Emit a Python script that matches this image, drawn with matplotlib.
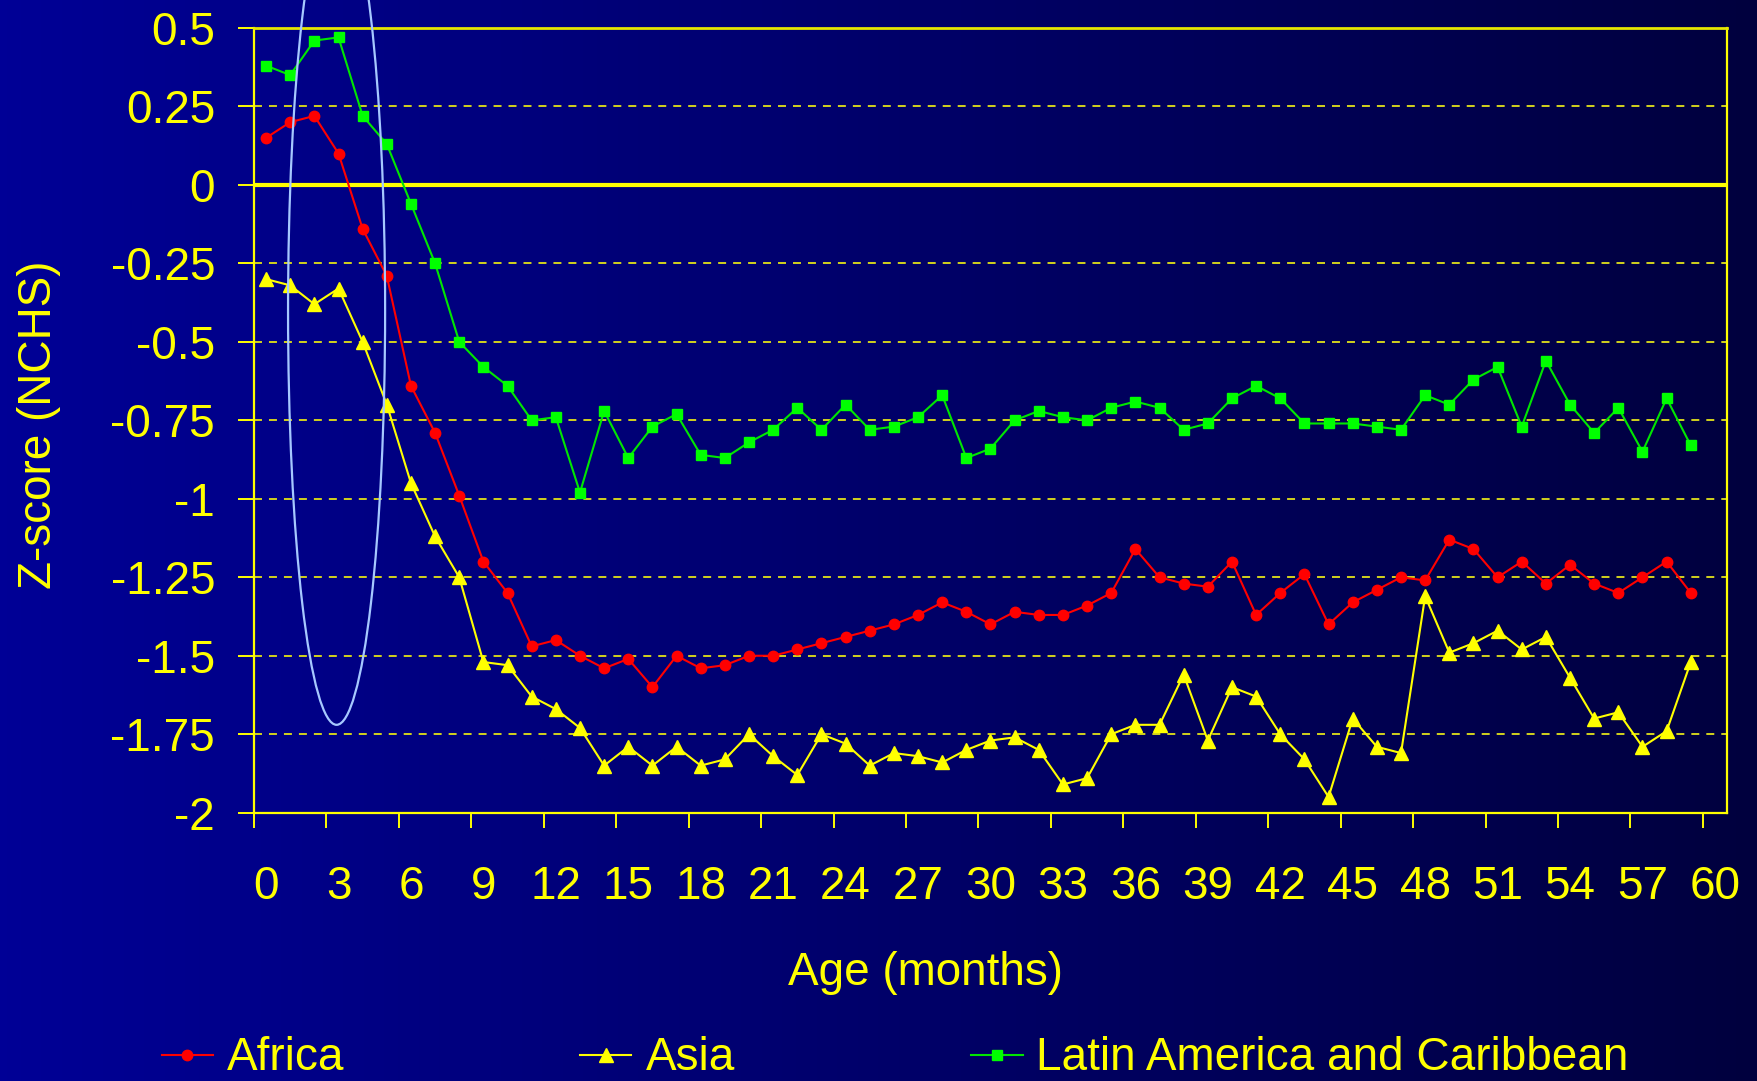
import numpy as np
import matplotlib
matplotlib.use("Agg")
import matplotlib.pyplot as plt
from matplotlib.colors import LinearSegmentedColormap
from matplotlib.patches import Ellipse
from matplotlib.lines import Line2D

plt.rcParams['font.family'] = ['Liberation Sans', 'DejaVu Sans']

# ---------------- data ----------------
months = list(range(60))

africa = [0.15, 0.20, 0.22, 0.10, -0.14, -0.29, -0.64, -0.79, -0.99, -1.20,
          -1.30, -1.47, -1.45, -1.50, -1.54, -1.51, -1.60, -1.50, -1.54, -1.53,
          -1.50, -1.50, -1.48, -1.46, -1.44, -1.42, -1.40, -1.37, -1.33, -1.36,
          -1.40, -1.36, -1.37, -1.37, -1.34, -1.30, -1.16, -1.25, -1.27, -1.28,
          -1.20, -1.37, -1.30, -1.24, -1.40, -1.33, -1.29, -1.25, -1.26, -1.13,
          -1.16, -1.25, -1.20, -1.27, -1.21, -1.27, -1.30, -1.25, -1.20, -1.30]

asia = [-0.30, -0.32, -0.38, -0.33, -0.50, -0.70, -0.95, -1.12, -1.25, -1.52,
        -1.53, -1.63, -1.67, -1.73, -1.85, -1.79, -1.85, -1.79, -1.85, -1.83,
        -1.75, -1.82, -1.88, -1.75, -1.78, -1.85, -1.81, -1.82, -1.84, -1.80,
        -1.77, -1.76, -1.80, -1.91, -1.89, -1.75, -1.72, -1.72, -1.56, -1.77,
        -1.60, -1.63, -1.75, -1.83, -1.95, -1.70, -1.79, -1.81, -1.31, -1.49,
        -1.46, -1.42, -1.48, -1.44, -1.57, -1.70, -1.68, -1.79, -1.74, -1.52]

latin = [0.38, 0.35, 0.46, 0.47, 0.22, 0.13, -0.06, -0.25, -0.50, -0.58,
         -0.64, -0.75, -0.74, -0.98, -0.72, -0.87, -0.77, -0.73, -0.86, -0.87,
         -0.82, -0.78, -0.71, -0.78, -0.70, -0.78, -0.77, -0.74, -0.67, -0.87,
         -0.84, -0.75, -0.72, -0.74, -0.75, -0.71, -0.69, -0.71, -0.78, -0.76,
         -0.68, -0.64, -0.68, -0.76, -0.76, -0.76, -0.77, -0.78, -0.67, -0.70,
         -0.62, -0.58, -0.77, -0.56, -0.70, -0.79, -0.71, -0.85, -0.68, -0.83]

series_names = ['Africa', 'Asia', 'Latin America and Caribbean']
x_tick_values = list(range(0, 61, 3))
y_tick_values = [0.5, 0.25, 0, -0.25, -0.5, -0.75, -1, -1.25, -1.5, -1.75, -2]
y_tick_labels = ['0.5', '0.25', '0', '-0.25', '-0.5', '-0.75', '-1', '-1.25',
                 '-1.5', '-1.75', '-2']

# ---------------- figure ----------------
W, H = 1757, 1081
fig = plt.figure(figsize=(W / 100, H / 100), dpi=100)

# background gradient
bg = fig.add_axes([0, 0, 1, 1], zorder=-10)
cmap = LinearSegmentedColormap.from_list('bg', ['#000096', '#00003e'])
grad = np.linspace(0, 1, 512).reshape(1, -1)
bg.imshow(grad, aspect='auto', cmap=cmap, extent=[0, 1, 0, 1])
bg.set_axis_off()

YEL = '#ffff00'
L, R, T, B = 254, 1727, 28, 812.7
ax = fig.add_axes([L / W, 1 - B / H, (R - L) / W, (B - T) / H])
ax.patch.set_alpha(0)

ax.set_xlim(-0.5, 60.5)
ax.set_ylim(-2, 0.5)

# grid lines (dashed)
for yv in y_tick_values:
    if yv not in (0, 0.5, -2):
        ax.axhline(yv, color='#d2d21e', lw=1.4, linestyle=(0, (4.1, 3.6)), zorder=1)
# zero line
ax.axhline(0, color=YEL, lw=3.0, zorder=2)

# series
ax.plot(months, africa, color='#ff0000', lw=1.5, marker='o', ms=7.5,
        mec='#ff0000', mfc='#ff0000', zorder=4)
ax.plot(months, asia, color=YEL, lw=1.5, marker='^', ms=9.5,
        mec=YEL, mfc=YEL, zorder=4)
ax.plot(months, latin, color='#00e600', lw=1.5, marker='s', ms=7.5,
        mec='#00ff00', mfc='#00ff00', zorder=4)

# highlight ellipse
ell = Ellipse((2.92, -0.40), width=4.02, height=2.64, fill=False,
              edgecolor='#a6c8ff', lw=1.6, zorder=6, clip_on=False)
ax.add_patch(ell)

# spines
for s in ['left', 'right', 'bottom']:
    ax.spines[s].set_color(YEL)
    ax.spines[s].set_linewidth(1.6)
ax.spines['top'].set_color('#e6e600')
ax.spines['top'].set_linewidth(2.0)

# ticks
ax.set_xticks(x_tick_values)
ax.set_xticklabels([str(v) for v in x_tick_values])
ax.set_xticks(np.arange(-0.5, 60, 3), minor=True)
ax.tick_params(axis='x', which='major', length=0, pad=38, labelsize=33,
               labelcolor=YEL)
ax.tick_params(axis='x', which='minor', length=10.8, width=1.4, color=YEL,
               direction='out')
ax.set_yticks(y_tick_values)
ax.set_yticklabels(y_tick_labels)
ax.tick_params(axis='y', which='major', length=11.5, width=1.4, color=YEL,
               direction='out', pad=16.5, labelsize=33, labelcolor=YEL)

# axis titles
fig.text(925 / W, 1 - 985 / H, 'Age (months)', color=YEL, fontsize=33,
         ha='center', va='baseline')
fig.text(51.5 / W, 1 - 425 / H, 'Z-score (NCHS)', color=YEL, fontsize=33,
         rotation=90, rotation_mode='anchor', ha='center', va='baseline')

# legend (manual, bottom row)
leg_y = 1 - 1055 / H
leg_items = [
    (162, 213, 187, 'o', '#ff0000', '#ff0000', 7.5, 227),
    (580, 631, 605.5, '^', YEL, YEL, 9.5, 646),
    (971, 1023, 996.5, 's', '#00e600', '#00ff00', 7.5, 1036.5),
]
for (x0, x1, xm, mk, lc, mc, ms, xt), name in zip(leg_items, series_names):
    fig.add_artist(Line2D([x0 / W, x1 / W], [leg_y, leg_y], color=lc, lw=1.5,
                          transform=fig.transFigure))
    fig.add_artist(Line2D([xm / W], [leg_y], marker=mk, ms=ms, color=mc,
                          mec=mc, linestyle='none', transform=fig.transFigure))
    fig.text(xt / W, 1 - 1080 / H, name, color=YEL, fontsize=33,
             ha='left', va='bottom')

fig.savefig('out.png', dpi=100)
